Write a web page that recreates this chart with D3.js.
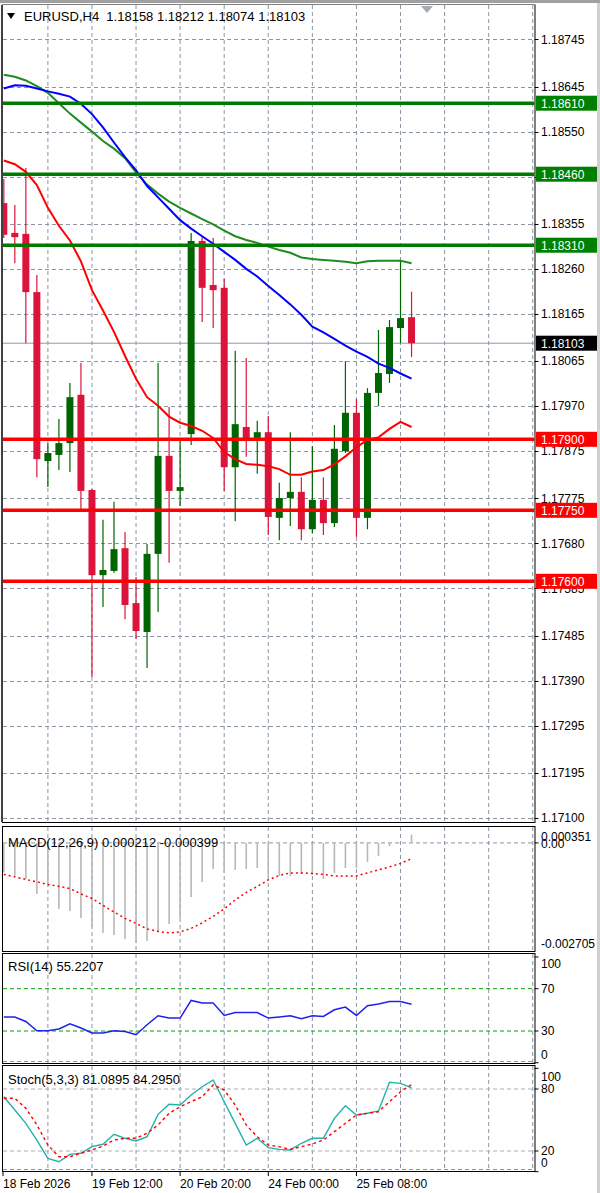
<!DOCTYPE html>
<html><head><meta charset="utf-8">
<script src="https://cdn.jsdelivr.net/npm/d3@7"></script>
<style>body{margin:0;background:#fff;overflow:hidden}svg{display:block}</style>
</head><body><svg id="c" width="600" height="1193"></svg>
<script>
// ---------- DATA ----------
const headerText = "EURUSD,H4  1.18158 1.18212 1.18074 1.18103";
const opens  = [1.18399,1.18336,1.18334,1.18211,1.17854,1.17867,1.17892,1.17994,1.17793,1.17613,1.17622,1.17670,1.17554,1.17493,1.17658,1.17865,1.17791,1.17911,1.18319,1.18226,1.18220,1.17841,1.17926,1.17903,1.17915,1.17734,1.17776,1.17789,1.17710,1.17772,1.17723,1.17875,1.17956,1.17734,1.17998,1.18038,1.18135,1.18158];
const highs  = [1.18450,1.18395,1.18473,1.18247,1.17892,1.17943,1.18019,1.18061,1.17795,1.17730,1.17768,1.17704,1.17609,1.17679,1.18061,1.17968,1.17899,1.18336,1.18329,1.18325,1.18239,1.18087,1.18072,1.17939,1.17949,1.17808,1.17915,1.17820,1.17886,1.17820,1.17930,1.18065,1.17985,1.18008,1.18131,1.18152,1.18279,1.18212];
const lows   = [1.18325,1.18272,1.18103,1.17820,1.17799,1.17835,1.17831,1.17751,1.17398,1.17546,1.17618,1.17520,1.17478,1.17417,1.17535,1.17639,1.17759,1.17888,1.18148,1.18135,1.17791,1.17727,1.17863,1.17827,1.17698,1.17687,1.17717,1.17687,1.17702,1.17698,1.17715,1.17871,1.17694,1.17710,1.17970,1.18019,1.18103,1.18074];
const closes = [1.18332,1.18327,1.18211,1.17858,1.17871,1.17892,1.17989,1.17791,1.17613,1.17624,1.17668,1.17550,1.17495,1.17658,1.17865,1.17791,1.17799,1.18319,1.18220,1.18215,1.17841,1.17932,1.17899,1.17915,1.17736,1.17776,1.17789,1.17710,1.17772,1.17723,1.17880,1.17956,1.17734,1.17998,1.18040,1.18137,1.18156,1.18103];

const maRed   = [1.18489,1.18481,1.18465,1.18437,1.18389,1.18351,1.18320,1.18276,1.18215,1.18172,1.18127,1.18076,1.18028,1.17989,1.17971,1.17948,1.17935,1.17928,1.17918,1.17903,1.17873,1.17858,1.17848,1.17846,1.17843,1.17837,1.17825,1.17825,1.17832,1.17835,1.17847,1.17864,1.17883,1.17899,1.17904,1.17922,1.17937,1.17926];
const maBlue  = [1.18641,1.18648,1.18647,1.18641,1.18635,1.18630,1.18624,1.18609,1.18587,1.18559,1.18527,1.18496,1.18468,1.18435,1.18411,1.18387,1.18363,1.18345,1.18329,1.18313,1.18296,1.18279,1.18260,1.18244,1.18224,1.18205,1.18185,1.18163,1.18138,1.18126,1.18112,1.18098,1.18085,1.18074,1.18060,1.18051,1.18039,1.18028];
const maGreen = [1.18670,1.18666,1.18658,1.18646,1.18632,1.18610,1.18588,1.18569,1.18550,1.18530,1.18514,1.18494,1.18464,1.18438,1.18419,1.18402,1.18389,1.18377,1.18365,1.18354,1.18341,1.18329,1.18321,1.18315,1.18307,1.18300,1.18294,1.18284,1.18281,1.18279,1.18277,1.18275,1.18272,1.18276,1.18277,1.18277,1.18277,1.18272];

const resistanceLevels = [1.18610, 1.18460, 1.18310];
const supportLevels    = [1.17900, 1.17750, 1.17600];
const lastPrice = 1.18103;
const priceTicks = [1.18745,1.18645,1.18550,1.18455,1.18355,1.18260,1.18165,1.18065,1.17970,1.17875,1.17775,1.17680,1.17585,1.17485,1.17390,1.17295,1.17195,1.17100];

const macdMain   = [-0.000750,-0.000833,-0.000909,-0.001288,-0.001086,-0.001667,-0.001717,-0.001894,-0.002122,-0.002273,-0.002324,-0.002425,-0.002526,-0.002475,-0.002223,-0.002046,-0.001894,-0.001364,-0.000985,-0.000657,-0.000758,-0.000682,-0.000657,-0.000631,-0.000833,-0.000833,-0.000833,-0.000783,-0.000808,-0.000909,-0.000758,-0.000631,-0.000631,-0.000480,-0.000328,-0.000076,-0.000013,0.000212];
const macdSignal = [-0.000796,-0.000859,-0.000922,-0.000985,-0.001048,-0.001099,-0.001154,-0.001288,-0.001402,-0.001579,-0.001743,-0.001907,-0.002033,-0.002172,-0.002235,-0.002273,-0.002248,-0.002159,-0.002020,-0.001856,-0.001667,-0.001440,-0.001250,-0.001099,-0.000934,-0.000821,-0.000758,-0.000758,-0.000770,-0.000796,-0.000833,-0.000833,-0.000833,-0.000758,-0.000682,-0.000606,-0.000518,-0.000399];
const macdLabel = "MACD(12,26,9) 0.000212 -0.000399";
const macdAxis = [0.000351, -0.002705];

const rsiValues = [43.2,43.2,39.0,30.2,30.2,31.9,36.9,32.8,28.1,28.1,30.2,29.6,26.5,35.9,44.4,42.2,42.2,58.9,56.4,56.4,44.7,47.5,47.5,47.5,42.2,43.2,44.4,41.6,44.4,43.8,50.1,52.6,44.7,53.9,55.5,57.9,57.9,55.2207];
const rsiLabel = "RSI(14) 55.2207";
const rsiLevels = [70, 30];
const rsiAxis = [100, 70, 30, 0];

const stochMain   = [72.5,59.7,46.8,30.6,12.9,9.6,16.8,17.8,24.2,26.5,36.2,32.3,29.7,33.8,55.5,65.2,64.5,74.2,82.2,88.7,67.7,46.8,25.8,32.3,23.2,21.6,21.0,27.5,32.3,32.3,51.6,63.8,54.8,56.5,58.7,86.5,85.5,81.0895];
const stochSignal = [71.0,71.0,61.3,45.2,25.8,14.5,14.5,17.8,21.0,24.8,30.6,32.3,32.3,37.1,45.2,56.5,62.9,67.7,72.5,83.9,79.0,64.5,45.2,33.8,25.8,24.2,21.6,24.2,26.8,30.6,38.7,46.8,54.8,56.5,58.0,67.7,77.4,84.2950];
const stochLabel = "Stoch(5,3,3) 81.0895 84.2950";
const stochLevels = [80, 20];
const stochAxis = [100, 80, 20, 0];

const dateBars  = [0, 8, 16, 24, 32];
const dateTexts = ["18 Feb 2026", "19 Feb 12:00", "20 Feb 20:00", "24 Feb 00:00", "25 Feb 08:00"];

// ---------- LAYOUT ----------
const L = 3, R = 534.5, AX = 541;
const panels = {
  main:  {top: 5,   bottom: 822},
  macd:  {top: 827, bottom: 951},
  rsi:   {top: 954, bottom: 1063},
  stoch: {top: 1066,bottom: 1171}
};
const FONT = "'Liberation Sans', Arial, sans-serif";
const GRID = "#8a96a3";

const svg = d3.select("#c");
const x = d3.scaleLinear().domain([0, 48]).range([3.8, 3.8 + 11.02 * 48]);
const y = d3.scaleLinear().domain([1.17100, 1.18745]).range([818, 39.3]);
const yM = d3.scaleLinear().domain([-0.002705, 0.000351]).range([950, 829]);
const yR = d3.scaleLinear().domain([30, 70]).range([1031, 988.7]);
const yS = d3.scaleLinear().domain([20, 80]).range([1151, 1089]);
const bars = d3.range(opens.length);
const gridBars = d3.range(4, 49, 4);

// chrome
svg.append("rect").attr("x",0).attr("y",0).attr("width",600).attr("height",1193).attr("fill","#fff");
svg.append("rect").attr("x",0).attr("y",0).attr("width",600).attr("height",3).attr("fill","#a0a0a0");
svg.append("rect").attr("x",597).attr("y",0).attr("width",3).attr("height",1193).attr("fill","#d0d0d0");

const defs = svg.append("defs");
Object.entries(panels).forEach(([k,p]) => {
  defs.append("clipPath").attr("id","clip-"+k).append("rect")
    .attr("x",L).attr("y",p.top).attr("width",R-L).attr("height",p.bottom-p.top);
});

function panelGroup(k){ return svg.append("g").attr("clip-path","url(#clip-"+k+")"); }

// vertical grid in all panels
Object.entries(panels).forEach(([k,p]) => {
  const g = panelGroup(k);
  g.selectAll("line.vg").data(gridBars).join("line")
    .attr("x1",d=>x(d)).attr("x2",d=>x(d)).attr("y1",p.top).attr("y2",p.bottom)
    .attr("stroke",GRID).attr("stroke-width",1).attr("stroke-dasharray","4,3");
});

// ---------- MAIN ----------
const gm = panelGroup("main");
gm.selectAll("line.hg").data(priceTicks).join("line")
  .attr("x1",L).attr("x2",R).attr("y1",d=>Math.round(y(d))+0.5).attr("y2",d=>Math.round(y(d))+0.5)
  .attr("stroke",GRID).attr("stroke-width",1).attr("stroke-dasharray","4,3");

// current price line
gm.append("line").attr("x1",L).attr("x2",R).attr("y1",y(lastPrice)).attr("y2",y(lastPrice))
  .attr("stroke","#8f9aa5").attr("stroke-width",1);

// candles
const BULL = "#006400", BEAR = "#dc143c";
const cg = gm.append("g");
cg.selectAll("line.wick").data(bars).join("line")
  .attr("x1",i=>x(i)).attr("x2",i=>x(i)).attr("y1",i=>y(highs[i])).attr("y2",i=>y(lows[i]))
  .attr("stroke",i=>closes[i]>=opens[i]?BULL:BEAR).attr("stroke-width",1.2);
cg.selectAll("rect.body").data(bars).join("rect")
  .attr("x",i=>x(i)-3.5).attr("width",7)
  .attr("y",i=>y(Math.max(opens[i],closes[i])))
  .attr("height",i=>Math.max(1.5, Math.abs(y(opens[i])-y(closes[i]))))
  .attr("fill",i=>closes[i]>=opens[i]?BULL:BEAR);

// moving averages
const lineGen = (arr, sc) => d3.line().x((d,i)=>x(i)).y(d=>sc(d))(arr);
gm.append("path").attr("d",lineGen(maGreen,y)).attr("fill","none").attr("stroke","#1e8c1e").attr("stroke-width",2);
gm.append("path").attr("d",lineGen(maBlue,y)).attr("fill","none").attr("stroke","#0000ff").attr("stroke-width",2);
gm.append("path").attr("d",lineGen(maRed,y)).attr("fill","none").attr("stroke","#ff0000").attr("stroke-width",2);

// S/R lines
gm.selectAll("line.res").data(resistanceLevels).join("line")
  .attr("x1",L).attr("x2",R).attr("y1",d=>y(d)).attr("y2",d=>y(d))
  .attr("stroke","#007a00").attr("stroke-width",3.5);
gm.selectAll("line.sup").data(supportLevels).join("line")
  .attr("x1",L).attr("x2",R).attr("y1",d=>y(d)).attr("y2",d=>y(d))
  .attr("stroke","#ff0000").attr("stroke-width",3.5);

// header
svg.append("path").attr("d","M7,13 L15,13 L11,19 Z").attr("fill","#000");
svg.append("text").attr("x",24).attr("y",21).attr("font-family",FONT).attr("font-size",13)
  .attr("fill","#000").attr("xml:space","preserve").style("white-space","pre").text(headerText);
svg.append("path").attr("d","M421,6 L433,6 L427,13 Z").attr("fill","#a3abb3");

// ---------- MACD ----------
const gmacd = panelGroup("macd");
gmacd.append("line").attr("x1",L).attr("x2",R).attr("y1",yM(0)).attr("y2",yM(0))
  .attr("stroke",GRID).attr("stroke-dasharray","4,3");
gmacd.selectAll("line.h").data(bars).join("line")
  .attr("x1",i=>x(i)).attr("x2",i=>x(i)).attr("y1",yM(0)).attr("y2",i=>yM(macdMain[i]))
  .attr("stroke","#b8b8b8").attr("stroke-width",1.6);
gmacd.append("path").attr("d",lineGen(macdSignal,yM)).attr("fill","none")
  .attr("stroke","#ff0000").attr("stroke-width",1.5).attr("stroke-dasharray","2,3");
svg.append("text").attr("x",8).attr("y",847).attr("font-family",FONT).attr("font-size",13).attr("fill","#000").text(macdLabel);

// ---------- RSI ----------
const grsi = panelGroup("rsi");
grsi.selectAll("line.lv").data(rsiLevels).join("line")
  .attr("x1",L).attr("x2",R).attr("y1",d=>yR(d)).attr("y2",d=>yR(d))
  .attr("stroke","#00a000").attr("stroke-dasharray","4,3");
grsi.append("line").attr("x1",L).attr("x2",R).attr("y1",1061.5).attr("y2",1061.5).attr("stroke",GRID).attr("stroke-dasharray","4,3");
grsi.append("path").attr("d",lineGen(rsiValues,yR)).attr("fill","none").attr("stroke","#2020ee").attr("stroke-width",1.5);
svg.append("text").attr("x",8).attr("y",971).attr("font-family",FONT).attr("font-size",13).attr("fill","#000").text(rsiLabel);

// ---------- STOCH ----------
const gst = panelGroup("stoch");
gst.selectAll("line.lv").data(stochLevels).join("line")
  .attr("x1",L).attr("x2",R).attr("y1",d=>yS(d)).attr("y2",d=>yS(d))
  .attr("stroke","#b0b0b0").attr("stroke-dasharray","4,3");
gst.append("line").attr("x1",L).attr("x2",R).attr("y1",1169.5).attr("y2",1169.5).attr("stroke",GRID).attr("stroke-dasharray","4,3");
gst.append("path").attr("d",lineGen(stochMain,yS)).attr("fill","none").attr("stroke","#20b2aa").attr("stroke-width",1.4);
gst.append("path").attr("d",lineGen(stochSignal,yS)).attr("fill","none").attr("stroke","#ff0000").attr("stroke-width",1.4).attr("stroke-dasharray","3,3");
svg.append("text").attr("x",8).attr("y",1084).attr("font-family",FONT).attr("font-size",13).attr("fill","#000").text(stochLabel);

// ---------- FRAMES ----------
Object.values(panels).forEach(p => {
  svg.append("rect").attr("x",L-0.5).attr("y",p.top-0.5).attr("width",R-L+1).attr("height",p.bottom-p.top+1)
    .attr("fill","none").attr("stroke","#000").attr("stroke-width",1);
});
svg.append("line").attr("x1",2).attr("x2",2).attr("y1",5).attr("y2",822).attr("stroke","#404040").attr("stroke-width",2);
svg.append("rect").attr("x",L-1).attr("y",0).attr("width",R-L+4).attr("height",4.5).attr("fill","#fff");
svg.append("rect").attr("x",0).attr("y",0).attr("width",600).attr("height",3).attr("fill","#a0a0a0");

// ---------- RIGHT AXES ----------
const axisText = (yy, t) => svg.append("text").attr("x",AX).attr("y",yy).attr("dy","0.35em")
  .attr("font-family",FONT).attr("font-size",12).attr("fill","#000").text(t);
const axisTick = (yy) => svg.append("line").attr("x1",R).attr("x2",R+4).attr("y1",yy).attr("y2",yy).attr("stroke","#000");

priceTicks.forEach(p => { axisTick(Math.round(y(p))+0.5); axisText(y(p), p.toFixed(5)); });

function priceBox(p, fill){
  const yy = y(p);
  svg.append("rect").attr("x",536).attr("y",yy-7.5).attr("width",61).attr("height",15).attr("fill",fill);
  svg.append("text").attr("x",AX).attr("y",yy).attr("dy","0.36em").attr("font-family",FONT)
    .attr("font-size",12).attr("fill","#fff").text(p.toFixed(5));
}
resistanceLevels.forEach(p=>priceBox(p,"#008000"));
supportLevels.forEach(p=>priceBox(p,"#ff0000"));
priceBox(lastPrice,"#000");

// MACD axis
axisText(yM(macdAxis[0])+8, macdAxis[0].toFixed(6));
axisText(yM(0)+1, "0.00");
axisText(yM(macdAxis[1])-6, macdAxis[1].toFixed(6));
axisTick(yM(0));

// RSI axis
rsiAxis.forEach(v => {
  const yy = v===100 ? yR(v)+7 : v===0 ? yR(v)-8 : yR(v);
  axisText(yy, String(v)); axisTick(yR(v));
});
// Stoch axis
stochAxis.forEach(v => {
  const yy = v===100 ? yS(v)+8 : v===0 ? yS(v)-9 : yS(v);
  axisText(yy, String(v)); axisTick(yS(v));
});

// ---------- X AXIS ----------
dateBars.forEach((b,k) => {
  const xx = k===0 ? 3 : x(b);
  svg.append("line").attr("x1",xx).attr("x2",xx).attr("y1",1171).attr("y2",1176).attr("stroke","#000");
  svg.append("text").attr("x",xx).attr("y",1188).attr("font-family",FONT).attr("font-size",12).attr("fill","#000").text(dateTexts[k]);
});
</script></body></html>
